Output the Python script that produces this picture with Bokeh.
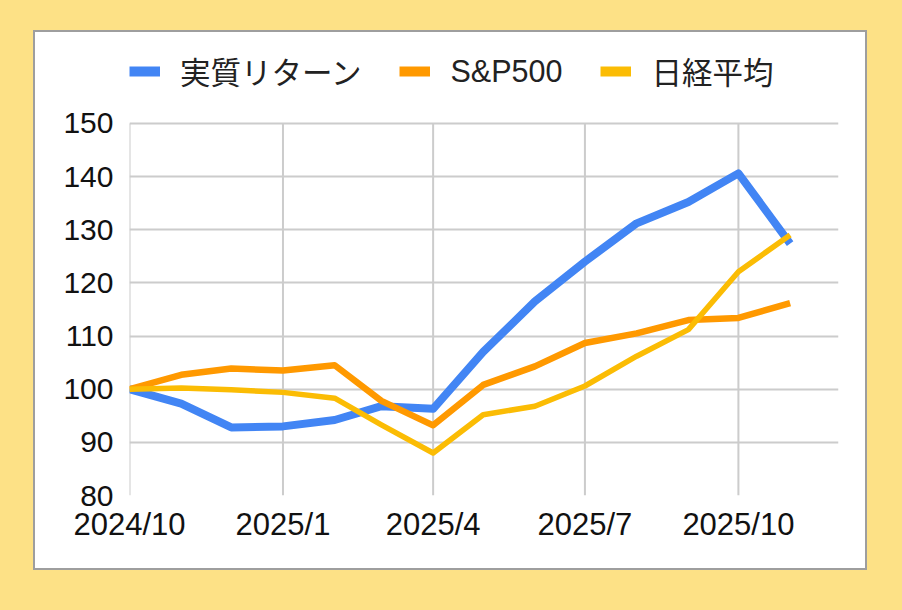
import pandas as pd
from bokeh.plotting import figure
from bokeh.models import FixedTicker, Legend, LegendItem, Range1d
from bokeh.embed import file_html
from bokeh.resources import INLINE

# ---- data ----
months = ["2024-10-01", "2024-11-01", "2024-12-01", "2025-01-01", "2025-02-01",
          "2025-03-01", "2025-04-01", "2025-05-01", "2025-06-01", "2025-07-01",
          "2025-08-01", "2025-09-01", "2025-10-01", "2025-11-01"]
real_return = [100.0, 97.3, 92.8, 93.0, 94.2, 96.8, 96.3, 107.0, 116.5, 124.0, 131.2, 135.2, 140.6, 127.4]
sp500 = [100.0, 102.7, 103.9, 103.5, 104.5, 97.8, 93.2, 100.8, 104.3, 108.7, 110.5, 113.0, 113.4, 116.2]
nikkei = [100.0, 100.2, 99.9, 99.4, 98.3, 93.3, 88.0, 95.2, 96.8, 100.6, 106.2, 111.2, 122.1, 129.0]
series_names = ["実質リターン", "S&P500", "日経平均"]
tick_dates = ["2024-10-01", "2025-01-01", "2025-04-01", "2025-07-01", "2025-10-01"]
tick_labels = ["2024/10", "2025/1", "2025/4", "2025/7", "2025/10"]
y_ticks = [80, 90, 100, 110, 120, 130, 140, 150]

x = pd.to_datetime(months)
tick_x = pd.to_datetime(tick_dates)
tick_ms = [float(pd.Timestamp(d).value // 10**6) for d in tick_dates]

BG = "#FDE186"
colors = ["#4285F4", "#FF9900", "#FBBC04"]
widths = [8, 6.5, 5.5]

# frame extends up to the card top so the legend (inside the frame) is not clipped
p = figure(width=834, height=540, x_axis_type="datetime",
           output_backend="svg", toolbar_location=None,
           x_range=Range1d(pd.Timestamp("2024-10-01"), pd.Timestamp("2025-11-30")),
           y_range=Range1d(80, 167.1),
           min_border_left=94, min_border_right=31, min_border_top=0, min_border_bottom=77,
           margin=(30, 0, 0, 33))
p.styles = {"border": "2px solid #9e9e9e", "background-color": "white"}
p.background_fill_color = "white"
p.border_fill_color = "white"
p.outline_line_color = None

# vertical grid lines only across the value span
p.segment(x0=tick_x, y0=y_ticks[0], x1=tick_x, y1=y_ticks[-1],
          line_color="#CCCCCC", line_width=2)

renderers = []
proxies = []
for vals, c, w in zip([real_return, sp500, nikkei], colors, widths):
    r = p.line(x, vals, line_color=c, line_width=w, line_join="round")
    renderers.append(r)
for vals, c in zip([real_return, sp500, nikkei], colors):
    pr = p.line(x, vals, line_color=c, line_width=10, visible=False)
    proxies.append(pr)

# axes
p.xaxis.ticker = FixedTicker(ticks=tick_ms)
p.xaxis.major_label_overrides = {t: l for t, l in zip(tick_ms, tick_labels)}
p.yaxis.ticker = FixedTicker(ticks=y_ticks)
for ax in (p.xaxis, p.yaxis):
    ax.axis_line_color = None
    ax.major_tick_line_color = None
    ax.minor_tick_line_color = None
    ax.major_label_text_font = "Liberation Sans"
    ax.major_label_text_color = "#111111"
p.xaxis.major_label_text_font_size = "31px"
p.yaxis.major_label_text_font_size = "30px"
p.yaxis.major_label_standoff = 10
p.xaxis.major_label_standoff = 5

p.xgrid.grid_line_color = None
p.ygrid.ticker = FixedTicker(ticks=y_ticks)
p.ygrid.grid_line_color = "#CCCCCC"
p.ygrid.grid_line_width = 2

legend = Legend(items=[LegendItem(label=n, renderers=[r]) for n, r in zip(series_names, proxies)],
                orientation="horizontal", location=(0, 402),
                label_text_font="Liberation Sans, Noto Sans CJK JP",
                label_text_font_size="30.5px", label_text_color="#222222",
                glyph_width=31, glyph_height=20, label_standoff=20, spacing=38,
                padding=0, margin=0, border_line_color=None, background_fill_alpha=0,
                inactive_fill_alpha=0)
p.add_layout(legend, "center")

html = file_html(p, INLINE)
html = html.replace("<head>", "<head><style>html,body{background:%s;}</style>" % BG, 1)
open("out.html", "w").write(html)
